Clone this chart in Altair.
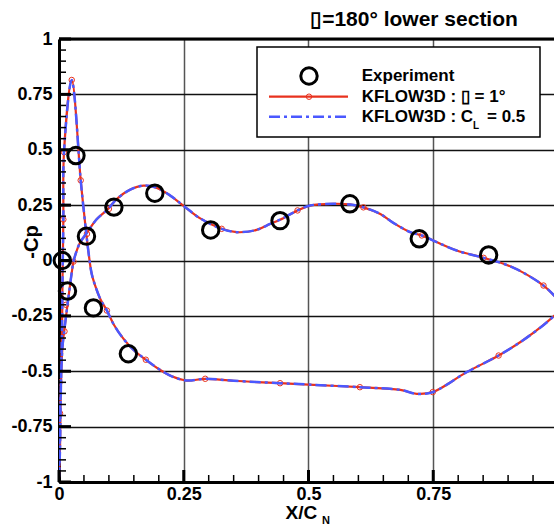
import altair as alt
import pandas as pd

FONT = "Liberation Sans"

# Experimental pressure taps (x/c, -Cp)
exp_x = [0.0066, 0.017, 0.034, 0.055, 0.069, 0.110, 0.139, 0.192, 0.304, 0.443, 0.583, 0.722, 0.861]
exp_y = [0.000, -0.138, 0.474, 0.110, -0.214, 0.241, -0.421, 0.304, 0.138, 0.180, 0.256, 0.098, 0.025]

# KFLOW3D surface distribution, traced as one closed loop:
# upper branch from trailing edge to the stagnation point, then the spike and lower branch back
cfd_x = [0.995, 0.971, 0.918, 0.891, 0.851, 0.797, 0.760, 0.727, 0.704, 0.670, 0.644, 0.610,
         0.583, 0.550, 0.503, 0.478, 0.443, 0.423, 0.396, 0.356, 0.326, 0.283, 0.249, 0.223,
         0.196, 0.169, 0.142, 0.116, 0.098, 0.075, 0.056, 0.042, 0.032, 0.029, 0.019, 0.012,
         0.007, 0.004, 0.002, 0.001, 0.000,
         0.002, 0.003, 0.004, 0.006, 0.007, 0.0087, 0.010, 0.0255, 0.0435, 0.049, 0.0587,
         0.0655, 0.072, 0.083, 0.096, 0.110, 0.129, 0.150, 0.174, 0.200, 0.226, 0.256, 0.293,
         0.350, 0.443, 0.500, 0.603, 0.684, 0.717, 0.749, 0.817, 0.881, 0.930, 0.970, 0.995]
cfd_y = [-0.165, -0.113, -0.040, -0.015, 0.012, 0.045, 0.080, 0.113, 0.128, 0.170, 0.210, 0.240,
         0.253, 0.256, 0.248, 0.226, 0.184, 0.165, 0.138, 0.128, 0.143, 0.190, 0.248, 0.293,
         0.328, 0.338, 0.319, 0.278, 0.232, 0.185, 0.125, 0.080, 0.020, -0.005, -0.165, -0.290,
         -0.390, -0.550, -0.700, -0.850, -0.980,
         -0.850, -0.690, -0.550, -0.320, -0.100, 0.185, 0.489, 0.815, 0.362, 0.240, 0.045,
         -0.060, -0.110, -0.175, -0.226, -0.290, -0.353, -0.405, -0.448, -0.490, -0.523, -0.542, -0.534,
         -0.543, -0.554, -0.560, -0.572, -0.584, -0.602, -0.594, -0.504, -0.429, -0.360, -0.293, -0.245]

# Grid points shown with symbols on the KFLOW3D (alpha = 1 deg) curve
sym_x = [0.0255, 0.010, 0.0435, 0.0087, 0.056, 0.029, 0.014, 0.011, 0.001, 0.002, 0.096, 0.174,
         0.293, 0.443, 0.603, 0.749, 0.881, 0.971, 0.851, 0.727, 0.610, 0.478, 0.326, 0.100]
sym_y = [0.815, 0.489, 0.362, 0.185, 0.120, -0.005, -0.200, -0.320, -0.550, -0.690, -0.226, -0.448,
         -0.534, -0.554, -0.572, -0.594, -0.429, -0.113, 0.012, 0.113, 0.240, 0.226, 0.143, 0.233]

x_major = [0, 0.25, 0.5, 0.75]
x_minor = [0.05, 0.10, 0.15, 0.20, 0.30, 0.35, 0.40, 0.45, 0.55, 0.60, 0.65, 0.70, 0.80, 0.85, 0.90, 0.95]
y_major = [-1, -0.75, -0.5, -0.25, 0, 0.25, 0.5, 0.75, 1]
y_minor = [v / 100 for v in range(-95, 100, 5) if v % 25 != 0]

RED = "#e8321e"
BLUE = "#4a58ff"
W, H = 495, 443

xs = alt.Scale(domain=[0, 0.992], nice=False, zero=False)
ys = alt.Scale(domain=[-1, 1], nice=False, zero=False)

xaxis = alt.Axis(values=x_major, grid=True, gridColor="#555555", gridWidth=1.5, ticks=False,
                 domainColor="black", domainWidth=3, labelFont=FONT, labelFontSize=18,
                 labelFontWeight="bold", labelColor="black", labelPadding=3, labelFlush=False,
                 labelOverlap=False, labelExpr="'' + datum.value", title=None)
yaxis = alt.Axis(values=y_major, grid=True, gridColor="#111111", gridWidth=1.3, ticks=False,
                 domainColor="black", domainWidth=3, labelFont=FONT, labelFontSize=18,
                 labelFontWeight="bold", labelColor="black", labelPadding=7, labelFlush=False,
                 labelOverlap=False, labelExpr="'' + datum.value", title=None)

cfd = pd.DataFrame({"x": cfd_x, "y": cfd_y, "i": range(len(cfd_x))})
exp = pd.DataFrame({"x": exp_x, "y": exp_y})
sym = pd.DataFrame({"x": sym_x, "y": sym_y})

X = alt.X("x:Q", scale=xs, axis=xaxis)
Y = alt.Y("y:Q", scale=ys, axis=yaxis)

red_line = alt.Chart(cfd).mark_line(color=RED, strokeWidth=2.2, interpolate="catmull-rom", clip=True).encode(
    x=X, y=Y, order="i:Q")
red_sym = alt.Chart(sym).mark_point(shape="circle", size=30, color=RED, strokeWidth=1, filled=False,
                                    opacity=1, clip=True).encode(x=X, y=Y)
blue_line = alt.Chart(cfd).mark_line(color=BLUE, strokeWidth=2.5, strokeDash=[11, 4, 3, 4],
                                     interpolate="catmull-rom", clip=True).encode(x=X, y=Y, order="i:Q")
exp_pts = alt.Chart(exp).mark_point(shape="circle", size=270, color="black", strokeWidth=3, filled=False,
                                    opacity=1).encode(x=X, y=Y)

# Inward tick marks on the bottom and left axes
def xticks(vals, length, width):
    return alt.Chart(pd.DataFrame({"x": vals})).mark_rule(color="black", strokeWidth=width).encode(
        x=X, y=alt.value(H), y2=alt.value(H - length))

def yticks(vals, length, width):
    return alt.Chart(pd.DataFrame({"y": vals})).mark_rule(color="black", strokeWidth=width).encode(
        y=Y, x=alt.value(0), x2=alt.value(length))

one = pd.DataFrame({"k": [0]})

top_border = alt.Chart(one).mark_rule(color="black", strokeWidth=3).encode(
    x=alt.value(0), x2=alt.value(W), y=alt.value(0))

# Legend
leg_box = alt.Chart(one).mark_rect(fill="white", stroke="black", strokeWidth=1.5).encode(
    x=alt.value(198), x2=alt.value(481), y=alt.value(8), y2=alt.value(98))
leg_exp = alt.Chart(one).mark_point(shape="circle", size=270, color="black", strokeWidth=3, filled=False,
                                    opacity=1).encode(x=alt.value(250), y=alt.value(37))
leg_red = alt.Chart(one).mark_rule(color=RED, strokeWidth=2.2).encode(
    x=alt.value(210), x2=alt.value(289), y=alt.value(57.7))
leg_red_sym = alt.Chart(one).mark_point(shape="circle", size=30, color=RED, strokeWidth=1, filled=False,
                                        opacity=1).encode(x=alt.value(250), y=alt.value(57.7))
leg_blue = alt.Chart(one).mark_rule(color=BLUE, strokeWidth=2.5, strokeDash=[11, 4, 3, 4]).encode(
    x=alt.value(210), x2=alt.value(289), y=alt.value(77.7))

def label(text, x, y, size=17, align="left", baseline="middle", angle=0):
    kw = dict(text=text, font=FONT, fontSize=size, fontWeight="bold", color="black",
              align=align, baseline=baseline)
    if angle:
        kw["angle"] = angle
    return alt.Chart(one).mark_text(**kw).encode(x=alt.value(x), y=alt.value(y))

texts = [
    label("Experiment", 302.7, 37),
    label("KFLOW3D : \u25af = 1\u00b0", 302.7, 57.7),
    label("KFLOW3D : C", 302.7, 77.7),
    label("L", 414, 86.5, size=10),
    label("= 0.5", 428, 77.7),
    label("\u25af=180\u00b0 lower section", 355, -19, size=21, align="center"),
    label("X/C", 226.5, 480, size=19, baseline="alphabetic"),
    label("N", 263, 485, size=11, baseline="alphabetic"),
    label("-Cp", -27.5, 203, size=20, align="center", angle=270),
]

chart = alt.layer(
    red_line, red_sym, blue_line, exp_pts,
    xticks(x_minor, 7, 1.5), xticks(x_major, 12, 3),
    yticks(y_minor, 7, 1.5), yticks(y_major, 12, 3),
    top_border, leg_box, leg_exp, leg_red, leg_red_sym, leg_blue, *texts,
).properties(
    width=W, height=H,
    padding={"left": 59, "top": 39, "right": 0, "bottom": 43},
    autosize=alt.AutoSizeParams(type="none"),
).configure_view(stroke=None).configure(background="white")

chart.save("out.html", embed_options={"renderer": "svg", "actions": False})
